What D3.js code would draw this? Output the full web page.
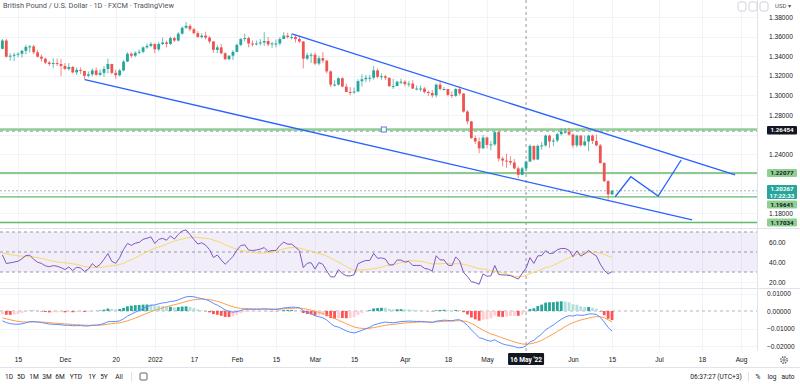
<!DOCTYPE html>
<html>
<head>
<meta charset="utf-8">
<script src="https://cdnjs.cloudflare.com/ajax/libs/d3/7.8.5/d3.min.js"></script>
<style>
  body { margin: 0; background: #fff; }
  svg { display: block; font-family: Roboto, "Noto Sans", sans-serif; }
</style>
</head>
<body>
<svg id="chart" width="800" height="384"></svg>
<script>
"use strict";

// daily GBPUSD bars, Nov 9 2021 .. Jun 15 2022 (index 0 = Nov 9)
var firstOpen = 1.3475;
var closes = [
  1.3560, 1.3395, 1.3405, 1.3415, 1.3425, 1.3455, 1.3495, 1.3500, 1.3440, 1.3395,
  1.3375, 1.3335, 1.3320, 1.3330, 1.3320, 1.3300, 1.3270, 1.3290, 1.3235, 1.3260,
  1.3250, 1.3200, 1.3215, 1.3255, 1.3210, 1.3230, 1.3270, 1.3320, 1.3230, 1.3205,
  1.3255, 1.3345, 1.3425, 1.3405, 1.3435, 1.3445, 1.3490, 1.3505, 1.3525, 1.3470,
  1.3525, 1.3540, 1.3525, 1.3585, 1.3560, 1.3630, 1.3690, 1.3710, 1.3675, 1.3635,
  1.3595, 1.3610, 1.3590, 1.3550, 1.3465, 1.3490, 1.3430, 1.3370, 1.3405, 1.3445,
  1.3515, 1.3575, 1.3585, 1.3530, 1.3525, 1.3530, 1.3540, 1.3555, 1.3520, 1.3530,
  1.3530, 1.3575, 1.3610, 1.3595, 1.3595, 1.3575, 1.3550, 1.3375, 1.3410, 1.3415,
  1.3325, 1.3380, 1.3355, 1.3245, 1.3110, 1.3110, 1.3175, 1.3090, 1.3035, 1.3030,
  1.3040, 1.3145, 1.3165, 1.3180, 1.3180, 1.3255, 1.3190, 1.3195, 1.3180, 1.3095,
  1.3095, 1.3140, 1.3140, 1.3115, 1.3120, 1.3070, 1.3070, 1.3070, 1.3035, 1.3025,
  1.3000, 1.3110, 1.3065, 1.3065, 1.3005, 1.2995, 1.3065, 1.3020, 1.2835, 1.2735,
  1.2565, 1.2530, 1.2460, 1.2570, 1.2495, 1.2500, 1.2625, 1.2355, 1.2335, 1.2330,
  1.2315, 1.2255, 1.2190, 1.2255, 1.2325, 1.2485, 1.2345, 1.2485, 1.2490, 1.2590,
  1.2530, 1.2540, 1.2605, 1.2630, 1.2630, 1.2600, 1.2490, 1.2590, 1.2490, 1.2530,
  1.2590, 1.2535, 1.2490, 1.2310, 1.2125, 1.1990, 1.2027
];
var highs = [
  1.3575, 1.3575, 1.3430, 1.3435, 1.3440, 1.3465, 1.3515, 1.3515, 1.3515, 1.3465,
  1.3415, 1.3385, 1.3350, 1.3380, 1.3375, 1.3370, 1.3330, 1.3330, 1.3300, 1.3285,
  1.3285, 1.3250, 1.3245, 1.3275, 1.3285, 1.3265, 1.3300, 1.3375, 1.3325, 1.3260,
  1.3270, 1.3360, 1.3440, 1.3440, 1.3450, 1.3470, 1.3500, 1.3530, 1.3545, 1.3530,
  1.3545, 1.3590, 1.3560, 1.3600, 1.3600, 1.3645, 1.3705, 1.3750, 1.3725, 1.3690,
  1.3655, 1.3635, 1.3650, 1.3605, 1.3555, 1.3515, 1.3525, 1.3440, 1.3410, 1.3460,
  1.3530, 1.3585, 1.3630, 1.3600, 1.3560, 1.3560, 1.3575, 1.3645, 1.3595, 1.3545,
  1.3570, 1.3595, 1.3645, 1.3640, 1.3630, 1.3620, 1.3600, 1.3555, 1.3435, 1.3435,
  1.3435, 1.3405, 1.3440, 1.3360, 1.3255, 1.3155, 1.3185, 1.3185, 1.3120, 1.3085,
  1.3080, 1.3165, 1.3215, 1.3210, 1.3210, 1.3300, 1.3275, 1.3225, 1.3210, 1.3180,
  1.3170, 1.3150, 1.3170, 1.3155, 1.3145, 1.3155, 1.3100, 1.3100, 1.3085, 1.3050,
  1.3055, 1.3120, 1.3150, 1.3085, 1.3060, 1.3040, 1.3075, 1.3090, 1.3020, 1.2850,
  1.2740, 1.2590, 1.2570, 1.2595, 1.2580, 1.2535, 1.2640, 1.2635, 1.2375, 1.2405,
  1.2380, 1.2350, 1.2275, 1.2270, 1.2335, 1.2500, 1.2490, 1.2500, 1.2525, 1.2600,
  1.2600, 1.2565, 1.2620, 1.2665, 1.2665, 1.2670, 1.2610, 1.2600, 1.2595, 1.2590,
  1.2600, 1.2600, 1.2600, 1.2505, 1.2320, 1.2135, 1.2035
];
var lows = [
  1.3470, 1.3385, 1.3355, 1.3350, 1.3390, 1.3385, 1.3420, 1.3440, 1.3420, 1.3385,
  1.3345, 1.3320, 1.3300, 1.3280, 1.3300, 1.3195, 1.3260, 1.3250, 1.3225, 1.3210,
  1.3220, 1.3160, 1.3185, 1.3195, 1.3200, 1.3200, 1.3190, 1.3225, 1.3215, 1.3170,
  1.3195, 1.3245, 1.3340, 1.3385, 1.3390, 1.3420, 1.3430, 1.3475, 1.3490, 1.3430,
  1.3450, 1.3515, 1.3490, 1.3515, 1.3545, 1.3550, 1.3620, 1.3680, 1.3655, 1.3625,
  1.3590, 1.3580, 1.3570, 1.3530, 1.3435, 1.3430, 1.3420, 1.3360, 1.3360, 1.3360,
  1.3440, 1.3500, 1.3550, 1.3490, 1.3500, 1.3510, 1.3510, 1.3505, 1.3500, 1.3485,
  1.3490, 1.3510, 1.3580, 1.3580, 1.3570, 1.3540, 1.3535, 1.3275, 1.3360, 1.3330,
  1.3310, 1.3305, 1.3330, 1.3225, 1.3085, 1.3090, 1.3100, 1.3085, 1.3035, 1.3000,
  1.3015, 1.3035, 1.3090, 1.3135, 1.3140, 1.3160, 1.3175, 1.3160, 1.3155, 1.3085,
  1.3065, 1.3095, 1.3115, 1.3095, 1.3085, 1.3065, 1.3050, 1.3040, 1.3020, 1.2995,
  1.2975, 1.2980, 1.3050, 1.3050, 1.2990, 1.2975, 1.2985, 1.3000, 1.2825, 1.2705,
  1.2555, 1.2505, 1.2410, 1.2455, 1.2460, 1.2440, 1.2485, 1.2325, 1.2275, 1.2260,
  1.2290, 1.2245, 1.2155, 1.2185, 1.2225, 1.2320, 1.2335, 1.2345, 1.2445, 1.2475,
  1.2465, 1.2480, 1.2520, 1.2590, 1.2610, 1.2590, 1.2465, 1.2470, 1.2480, 1.2480,
  1.2430, 1.2505, 1.2480, 1.2305, 1.2115, 1.1935, 1.1985
];

// time axis: bar index of each label
var tickIdx = [4, 16, 29, 39, 49, 60, 70, 80, 90, 103, 114, 124, 146, 156, 168, 179, 189];
var tickLabels = ["15", "Dec", "20", "2022", "17", "Feb", "15", "Mar", "15", "Apr", "18", "May", "Jun", "15", "Jul", "18", "Aug"];
var priceTicks = [1.38, 1.36, 1.34, 1.32, 1.30, 1.28, 1.24, 1.18];
var priceGrid = [1.38, 1.36, 1.34, 1.32, 1.30, 1.28, 1.26, 1.24, 1.22, 1.20, 1.18];
var rsiTicks = [60, 40, 20];
var macdTicks = [0.01, 0, -0.01, -0.02];

// drawings
var zoneLevel = 1.2652;
var levels = [1.22077, 1.19641, 1.17034];
var upperLine = [[74.1, 1.3627], [187.5, 1.2188]];
var lowerLine = [[21.1, 1.3160], [176.5, 1.1729]];
var zigzag = [[156.8, 1.1966], [160.8, 1.2170], [167.8, 1.1973], [173.7, 1.2341]];
var handle = [97.6, 1.2652];
var crossIdx = 134, crossPrice = 1.26454, crossDate = "16 May '22";
var lastPrice = 1.20267, countdown = "17:22:33";

// indicator state at the left edge of the panes
var rsiGainStart = 0.0022, rsiLossStart = 0.0032, rsiMaStart = 49;
var emaFastStart = 1.3570, emaSlowStart = 1.3630, signalStart = -0.0035;

var UP = "#26a69a", DOWN = "#ef5350", TXT = "#131722";
var W = 800, AX = 757;

var svg = d3.select("#chart");
var x = d3.scaleLinear().domain([0, 189]).range([2.4, 741]);
var y = d3.scaleLinear().domain([1.17, 1.38]).range([222.8, 17]);
var yr = d3.scaleLinear().domain([0, 100]).range([302, 202]);
var ym = d3.scaleLinear().domain([-0.02, 0.01]).range([346, 293.5]);

var bars = closes.map(function (c, i) {
  return {i: i, o: i ? closes[i - 1] : firstOpen, h: highs[i], l: lows[i], c: c};
});

// RSI 14 + SMA 14
var ag = rsiGainStart, al = rsiLossStart;
var rsi = bars.map(function (b) {
  var ch = b.c - b.o;
  ag = (ag * 13 + Math.max(ch, 0)) / 14;
  al = (al * 13 + Math.max(-ch, 0)) / 14;
  return 100 - 100 / (1 + ag / al);
});
var rsiMa = rsi.map(function (v, i) {
  var s = 0;
  for (var k = i - 13; k <= i; k++) { s += k < 0 ? rsiMaStart : rsi[k]; }
  return s / 14;
});

// MACD 12 26 9
var e12 = emaFastStart, e26 = emaSlowStart, sig = signalStart;
var macd = [], signal = [], hist = [];
closes.forEach(function (c) {
  e12 += (c - e12) * 2 / 13;
  e26 += (c - e26) * 2 / 27;
  var m = e12 - e26;
  sig += (m - sig) * 2 / 10;
  macd.push(m); signal.push(sig); hist.push(m - sig);
});

// grid
var grid = svg.append("g").attr("stroke", "#f0f3fa").attr("stroke-width", 1);
grid.selectAll(".vg").data(tickIdx).enter().append("line")
  .attr("x1", function (d) { return Math.round(x(d)) + 0.5; })
  .attr("x2", function (d) { return Math.round(x(d)) + 0.5; })
  .attr("y1", 0).attr("y2", 351);
grid.selectAll(".hg").data(priceGrid).enter().append("line")
  .attr("x1", 0).attr("x2", AX)
  .attr("y1", function (d) { return Math.round(y(d)) + 0.5; })
  .attr("y2", function (d) { return Math.round(y(d)) + 0.5; });
grid.selectAll(".mg").data(macdTicks.filter(function (d) { return d !== 0; })).enter().append("line")
  .attr("x1", 0).attr("x2", AX)
  .attr("y1", function (d) { return Math.round(ym(d)) + 0.5; })
  .attr("y2", function (d) { return Math.round(ym(d)) + 0.5; });
grid.append("line").attr("x1", 0).attr("x2", AX)
  .attr("y1", Math.round(yr(20)) + 0.5).attr("y2", Math.round(yr(20)) + 0.5);

// pane borders
var sep = svg.append("g").attr("stroke", "#e0e3eb").attr("stroke-width", 1);
[228.5, 288.5].forEach(function (v) {
  sep.append("line").attr("x1", 0).attr("x2", W).attr("y1", v).attr("y2", v);
});
sep.append("line").attr("x1", 0).attr("x2", W).attr("y1", 367.5).attr("y2", 367.5);
sep.append("line").attr("x1", AX + 0.5).attr("x2", AX + 0.5).attr("y1", 0).attr("y2", 351);

// RSI band
svg.append("rect").attr("x", 0).attr("width", AX).attr("y", yr(70)).attr("height", yr(30) - yr(70))
  .attr("fill", "#7e57c2").attr("fill-opacity", 0.1);
svg.selectAll(".rl").data([70, 50, 30]).enter().append("line")
  .attr("x1", 0).attr("x2", AX)
  .attr("y1", function (d) { return yr(d); }).attr("y2", function (d) { return yr(d); })
  .attr("stroke", "#9a97a8").attr("stroke-dasharray", "3,3");

// horizontal levels
svg.append("line").attr("x1", 0).attr("x2", AX).attr("y1", y(zoneLevel)).attr("y2", y(zoneLevel))
  .attr("stroke", "#8fcf92").attr("stroke-width", 2.4);
svg.selectAll(".lvl").data(levels).enter().append("line")
  .attr("x1", 0).attr("x2", AX)
  .attr("y1", function (d) { return y(d); }).attr("y2", function (d) { return y(d); })
  .attr("stroke", "#66b86a").attr("stroke-width", 1.4);

// last price line
svg.append("line").attr("x1", 0).attr("x2", AX).attr("y1", y(lastPrice)).attr("y2", y(lastPrice))
  .attr("stroke", "#9fb8b5").attr("stroke-dasharray", "2,2");

// crosshair
var cross = svg.append("g").attr("stroke", "#9598a1").attr("stroke-dasharray", "3,3");
cross.append("line").attr("x1", x(crossIdx)).attr("x2", x(crossIdx)).attr("y1", 0).attr("y2", 351);
cross.append("line").attr("x1", 0).attr("x2", AX).attr("y1", y(crossPrice) + 1).attr("y2", y(crossPrice) + 1);

// candles
var cg = svg.append("g");
cg.selectAll(".wick").data(bars).enter().append("line")
  .attr("x1", function (d) { return x(d.i); }).attr("x2", function (d) { return x(d.i); })
  .attr("y1", function (d) { return y(d.h); }).attr("y2", function (d) { return y(d.l); })
  .attr("stroke", function (d) { return d.c >= d.o ? UP : DOWN; })
  .attr("stroke-width", 1).attr("stroke-opacity", 0.7);
cg.selectAll(".body").data(bars).enter().append("rect")
  .attr("x", function (d) { return x(d.i) - 1.4; })
  .attr("width", 2.8)
  .attr("y", function (d) { return y(Math.max(d.o, d.c)); })
  .attr("height", function (d) { return Math.max(1, Math.abs(y(d.o) - y(d.c))); })
  .attr("fill", function (d) { return d.c >= d.o ? UP : DOWN; });

// trend drawings
var blue = "#2962ff";
var lineGen = d3.line().x(function (d) { return x(d[0]); }).y(function (d) { return y(d[1]); });
[upperLine, lowerLine, zigzag].forEach(function (pts) {
  svg.append("path").attr("d", lineGen(pts)).attr("fill", "none")
    .attr("stroke", blue).attr("stroke-width", 1.3);
});
svg.append("rect").attr("x", x(handle[0]) - 2.5).attr("y", y(handle[1]) - 2.5)
  .attr("width", 5).attr("height", 5).attr("fill", "#fff")
  .attr("stroke", "#5b7fd6").attr("stroke-width", 1);

// RSI lines
var rsiLine = d3.line().x(function (d, i) { return x(i); }).y(function (d) { return yr(d); });
svg.append("path").attr("d", rsiLine(rsiMa)).attr("fill", "none").attr("stroke", "#f5d86a").attr("stroke-width", 1);
svg.append("path").attr("d", rsiLine(rsi)).attr("fill", "none").attr("stroke", "#7e57c2").attr("stroke-width", 1);

// MACD
svg.append("line").attr("x1", 0).attr("x2", AX).attr("y1", ym(0)).attr("y2", ym(0))
  .attr("stroke", "#b2b5be").attr("stroke-dasharray", "3,3");
svg.selectAll(".hist").data(hist).enter().append("rect")
  .attr("x", function (d, i) { return x(i) - 1.4; })
  .attr("width", 2.8)
  .attr("y", function (d) { return Math.min(ym(d), ym(0)); })
  .attr("height", function (d) { return Math.abs(ym(d) - ym(0)); })
  .attr("fill", function (d, i) {
    var prev = i ? hist[i - 1] : d;
    if (d >= 0) { return d >= prev ? "#26a69a" : "#b2dfdb"; }
    return d < prev ? "#ff5252" : "#ffcdd2";
  });
var macdLine = d3.line().x(function (d, i) { return x(i); }).y(function (d) { return ym(d); });
svg.append("path").attr("d", macdLine(signal)).attr("fill", "none").attr("stroke", "#ff9d4d").attr("stroke-width", 1);
svg.append("path").attr("d", macdLine(macd)).attr("fill", "none").attr("stroke", "#5b8cff").attr("stroke-width", 1);

// axes
function styleAxis(g) {
  g.select(".domain").remove();
  g.selectAll("text").attr("fill", TXT).style("font-size", "6.6px");
}
svg.append("g").attr("transform", "translate(766,0)")
  .call(d3.axisRight(y).tickValues(priceTicks).tickSize(0).tickPadding(3).tickFormat(d3.format(".5f")))
  .call(styleAxis);
svg.append("g").attr("transform", "translate(766,0)")
  .call(d3.axisRight(yr).tickValues(rsiTicks).tickSize(0).tickPadding(3).tickFormat(d3.format(".2f")))
  .call(styleAxis);
svg.append("g").attr("transform", "translate(766,0)")
  .call(d3.axisRight(ym).tickValues(macdTicks).tickSize(0).tickPadding(1).tickFormat(d3.format(".5f")))
  .call(styleAxis);
svg.append("g").attr("transform", "translate(0,353)")
  .call(d3.axisBottom(x).tickValues(tickIdx).tickSize(0).tickPadding(4)
    .tickFormat(function (d, i) { return tickLabels[i]; }))
  .call(styleAxis);

// axis tags
function tag(yc, h, fill, color, lines) {
  var g = svg.append("g");
  g.append("rect").attr("x", 767).attr("y", yc - h / 2).attr("width", 30).attr("height", h)
    .attr("rx", 1).attr("fill", fill);
  lines.forEach(function (t, k) {
    g.append("text").attr("x", 782).attr("y", yc - h / 2 + 6.1 + k * 6.4)
      .attr("text-anchor", "middle").attr("fill", color)
      .style("font-size", "6.2px").style("font-weight", "bold").text(t);
  });
}
tag(y(crossPrice), 8.5, "#131722", "#fff", [d3.format(".5f")(crossPrice)]);
tag(y(levels[0]), 8, "#8fcf92", TXT, [d3.format(".5f")(levels[0])]);
tag(192, 14, "#26a69a", "#fff", [d3.format(".5f")(lastPrice), countdown]);
tag(204.5, 8, "#8fcf92", TXT, [d3.format(".5f")(levels[1])]);
tag(y(levels[2]), 8, "#8fcf92", TXT, [d3.format(".5f")(levels[2])]);

// crosshair date tag
var dg = svg.append("g");
dg.append("rect").attr("x", x(crossIdx) - 18).attr("y", 353).attr("width", 36).attr("height", 12)
  .attr("rx", 1).attr("fill", "#131722");
dg.append("text").attr("x", x(crossIdx)).attr("y", 361.5).attr("text-anchor", "middle")
  .attr("fill", "#fff").style("font-size", "6.6px").style("font-weight", "bold").text(crossDate);

// title and header widgets
svg.append("text").attr("x", 3).attr("y", 8).attr("fill", "#50535e").style("font-size", "7.4px")
  .text("British Pound / U.S. Dollar \u00b7 1D \u00b7 FXCM \u00b7 TradingView");
[738, 749, 760].forEach(function (bx) {
  svg.append("rect").attr("x", bx).attr("y", 2).attr("width", 8).attr("height", 9).attr("rx", 2)
    .attr("fill", "#fff").attr("stroke", "#d1d4dc");
});
svg.append("text").attr("x", 775).attr("y", 8).attr("fill", "#50535e").style("font-size", "6px").text("USD \u25be");

// settings gear
var gear = svg.append("g").attr("transform", "translate(784,360)");
gear.append("circle").attr("r", 3.2).attr("fill", "none").attr("stroke", "#50535e").attr("stroke-width", 1.2)
  .attr("stroke-dasharray", "1.6,0.9");
gear.append("circle").attr("r", 1.2).attr("fill", "none").attr("stroke", "#50535e").attr("stroke-width", 0.8);

// bottom bar
var ranges = ["1D", "5D", "1M", "3M", "6M", "YTD", "1Y", "5Y", "All"];
var rangeX = [9, 21, 34, 47, 60, 76, 92, 104, 119];
svg.selectAll(".rng").data(ranges).enter().append("text")
  .attr("x", function (d, i) { return rangeX[i]; }).attr("y", 379)
  .attr("text-anchor", "middle").attr("fill", TXT).style("font-size", "6.6px")
  .text(function (d) { return d; });
svg.append("line").attr("x1", 131.5).attr("x2", 131.5).attr("y1", 372).attr("y2", 382).attr("stroke", "#e0e3eb");
svg.append("rect").attr("x", 140).attr("y", 373).attr("width", 7).attr("height", 7).attr("rx", 1)
  .attr("fill", "none").attr("stroke", "#50535e").attr("stroke-width", 0.9);
svg.append("text").attr("x", 716).attr("y", 379).attr("text-anchor", "middle").attr("fill", TXT)
  .style("font-size", "6.6px").text("06:37:27 (UTC+3)");
svg.append("line").attr("x1", 748.5).attr("x2", 748.5).attr("y1", 372).attr("y2", 382).attr("stroke", "#e0e3eb");
[["%", 758], ["log", 772], ["auto", 788]].forEach(function (t) {
  svg.append("text").attr("x", t[1]).attr("y", 379).attr("text-anchor", "middle").attr("fill", TXT)
    .style("font-size", "6.6px").text(t[0]);
});
</script>
</body>
</html>
